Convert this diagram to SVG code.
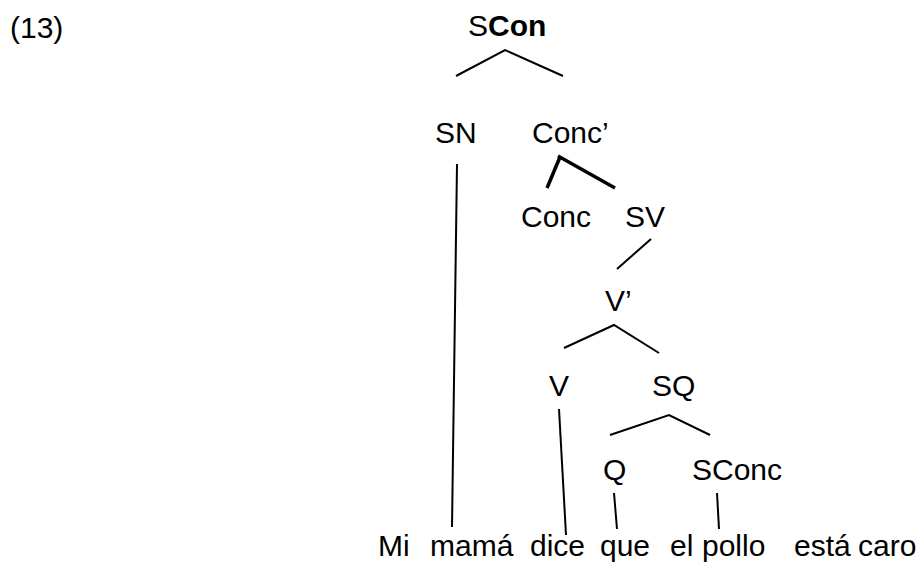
<svg xmlns="http://www.w3.org/2000/svg" width="921" height="572" viewBox="0 0 921 572">
<style>
text{font-family:"Liberation Sans",Arial,sans-serif;font-size:30px;fill:#000}
.e{stroke:#000;stroke-width:2;fill:none}
.t{stroke:#000;stroke-width:3.5;fill:none}
</style>
<rect width="921" height="572" fill="#fff"/>
<text x="10" y="38">(13)</text>
<g id="n-scon"><text x="468" y="36">S<tspan font-weight="bold">Con</tspan></text></g>
<g id="n-sn"><text x="435" y="143">SN</text></g>
<g id="n-concbar"><text x="532" y="143">Conc’</text></g>
<g id="n-conc"><text x="521" y="227">Conc</text></g>
<g id="n-sv"><text x="625" y="227">SV</text></g>
<g id="n-vbar"><text x="605" y="311">V’</text></g>
<g id="n-v"><text x="549" y="396">V</text></g>
<g id="n-sq"><text x="652" y="396">SQ</text></g>
<g id="n-q"><text x="603" y="480">Q</text></g>
<g id="n-sconc"><text x="692" y="480">SConc</text></g>
<g id="n-words"><text y="556"><tspan x="378">Mi</tspan><tspan x="430">mamá</tspan><tspan x="530">dice</tspan><tspan x="600">que</tspan><tspan x="670">el</tspan><tspan x="702">pollo</tspan><tspan x="794">está</tspan><tspan x="858">caro</tspan></text></g>
<g id="connectors">
<polyline class="e" points="456,76 505,50 563,76"/>
<line class="e" x1="457" y1="164" x2="452" y2="527"/>
<polyline class="t" points="547,188 560,157"/>
<line class="t" x1="558" y1="156" x2="615" y2="188"/>
<line class="e" x1="651" y1="239" x2="617" y2="269"/>
<polyline class="e" points="564,348 614,325 659,353"/>
<line class="e" x1="559" y1="409" x2="566" y2="535"/>
<polyline class="e" points="610,435 669,415 710,435"/>
<line class="e" x1="614" y1="493" x2="617" y2="529"/>
<line class="e" x1="717" y1="493" x2="719" y2="529"/>
</g>
</svg>
